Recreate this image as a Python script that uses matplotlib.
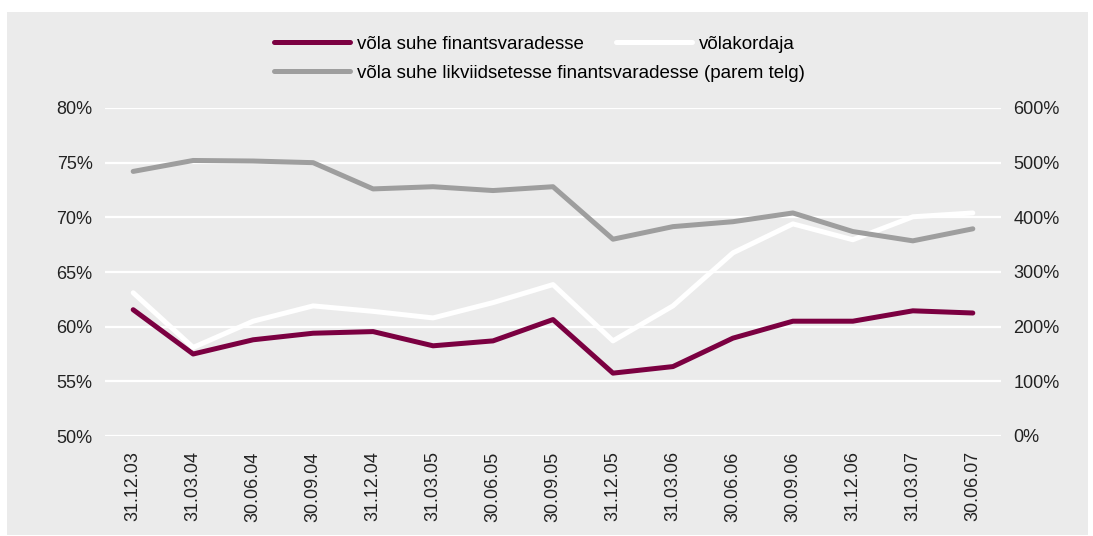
import matplotlib
matplotlib.use('Agg')
import matplotlib.pyplot as plt
from matplotlib.patches import Rectangle
from matplotlib.ticker import FuncFormatter

plt.rcParams['font.family'] = ['Liberation Sans', 'DejaVu Sans']

kuupaevad = ['31.12.03', '31.03.04', '30.06.04', '30.09.04', '31.12.04', '31.03.05', '30.06.05',
             '30.09.05', '31.12.05', '31.03.06', '30.06.06', '30.09.06', '31.12.06', '31.03.07', '30.06.07']
# vasak telg
suhe_fin = [61.55, 57.5, 58.8, 59.4, 59.55, 58.25, 58.7, 60.65, 55.75, 56.35, 58.95, 60.5, 60.5, 61.45, 61.25]
volakordaja = [63.1, 58.1, 60.5, 61.9, 61.4, 60.8, 62.2, 63.85, 58.7, 61.9, 66.75, 69.4, 67.95, 70.05, 70.4]
# parem telg
suhe_likv = [484, 504, 503, 500, 452, 456, 449, 456, 360, 383, 392, 408, 374, 357, 379]

maroon = '#7b0041'
hall = '#9e9e9e'
taust = '#ebebeb'

fig = plt.figure(figsize=(10.93, 5.36), dpi=100)
fig.patch.set_facecolor('white')
fig.patches.append(Rectangle((7 / 1093, 1 - 535 / 536), 1081 / 1093, 523 / 536,
                             transform=fig.transFigure, facecolor=taust, edgecolor='none', zorder=-10))

ax = fig.add_axes([105 / 1093, 1 - 436 / 536, 896 / 1093, 328 / 536])
ax.set_facecolor(taust)
x = list(range(len(kuupaevad)))

l1, = ax.plot(x, suhe_fin, color=maroon, lw=3.6, solid_capstyle='round', zorder=3)
l2, = ax.plot(x, volakordaja, color='white', lw=3.6, solid_capstyle='round', zorder=3)
ax.set_ylim(50, 80)
ax.set_yticks(range(50, 81, 5))
ax.yaxis.set_major_formatter(FuncFormatter(lambda v, p: f'{v:.0f}%'))
ax.set_xlim(-0.47, len(kuupaevad) - 1 + 0.47)
ax.set_xticks(x)
ax.set_xticklabels(kuupaevad, rotation=90)
ax.grid(axis='y', color='white', lw=1.6, zorder=1)
ax.set_axisbelow(True)

ax2 = ax.twinx()
l3, = ax2.plot(x, suhe_likv, color=hall, lw=3.6, solid_capstyle='round', zorder=3)
ax2.set_ylim(0, 600)
ax2.set_yticks(range(0, 601, 100))
ax2.yaxis.set_major_formatter(FuncFormatter(lambda v, p: f'{v:.0f}%'))
ax2.patch.set_visible(False)

for a in (ax, ax2):
    for s in a.spines.values():
        s.set_visible(False)
    a.tick_params(length=0, labelsize=13, colors='#222222')
ax.tick_params(axis='y', pad=9)
ax2.tick_params(axis='y', pad=9)
ax.tick_params(axis='x', pad=11)

leg_opts = dict(frameon=False, fontsize=13.5, handlelength=4.05, handletextpad=0.37,
                borderpad=0, borderaxespad=0, loc='center left')
leg1 = fig.legend([l1, l2], ['võla suhe finantsvaradesse', 'võlakordaja'], ncol=2,
                  columnspacing=1.7, bbox_to_anchor=(274 / 1093, 1 - 44 / 536), **leg_opts)
leg2 = fig.legend([l3], ['võla suhe likviidsetesse finantsvaradesse (parem telg)'],
                  bbox_to_anchor=(274 / 1093, 1 - 73 / 536), **leg_opts)

fig.savefig('out.png', dpi=100)
